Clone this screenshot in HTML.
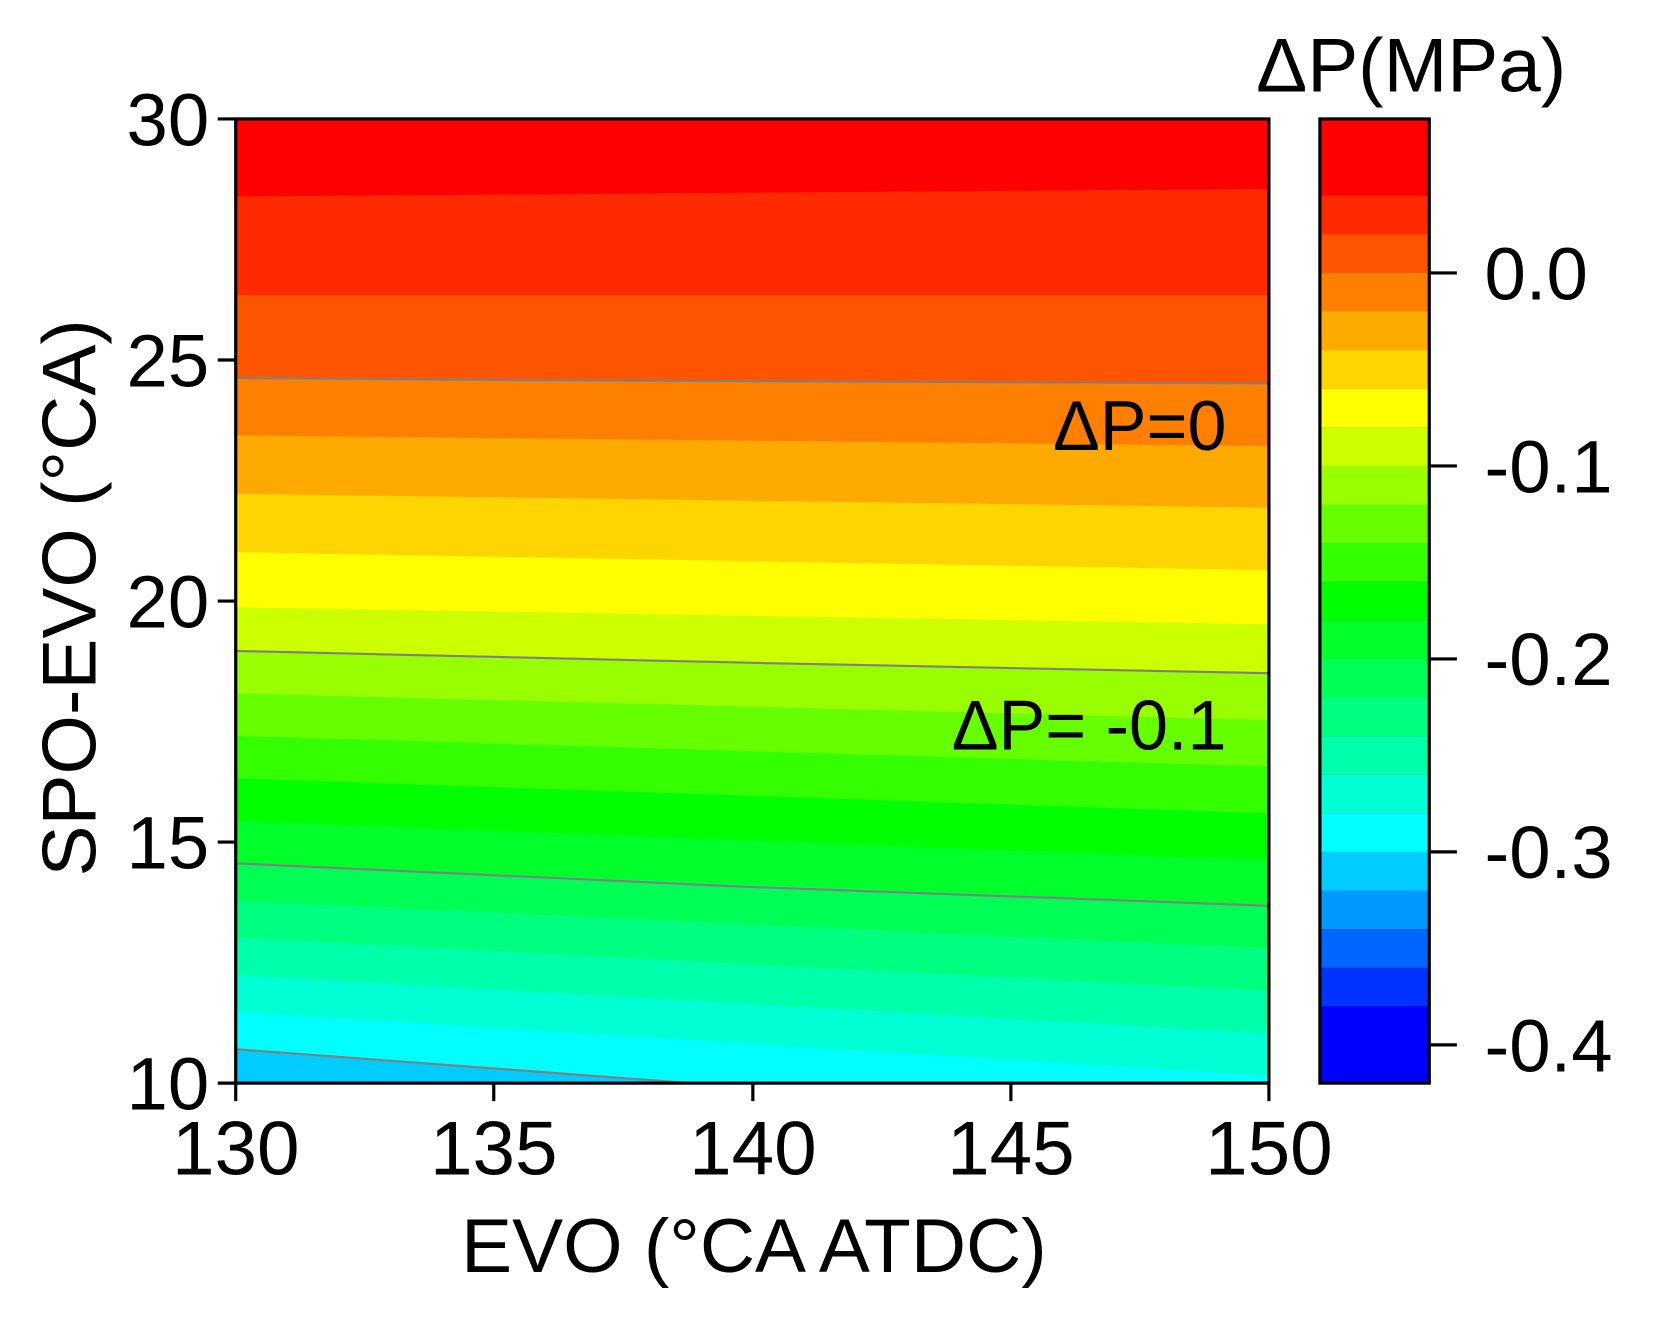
<!DOCTYPE html>
<html><head><meta charset="utf-8"><style>html,body{margin:0;padding:0;background:#fff}svg{display:block}</style></head>
<body>
<svg width="1665" height="1321" viewBox="0 0 1568 1244" xmlns="http://www.w3.org/2000/svg" font-family="Liberation Sans, Arial, sans-serif">
<rect x="0" y="0" width="1568" height="1244" fill="#fff"/>
<g>
<rect x="222" y="112" width="973" height="908" fill="hsl(0,100%,50%)"/>
<polygon points="222,185 1195,178 1195,1020 222,1020" fill="hsl(10,100%,50%)"/>
<polygon points="222,278 1195,278 1195,1020 222,1020" fill="hsl(20,100%,50%)"/>
<polygon points="222,356 1195,361 1195,1020 222,1020" fill="hsl(30,100%,50%)"/>
<polygon points="222,410 1195,420 1195,1020 222,1020" fill="hsl(40,100%,50%)"/>
<polygon points="222,465 1195,478 1195,1020 222,1020" fill="hsl(50,100%,50%)"/>
<polygon points="222,520 1195,537 1195,1020 222,1020" fill="hsl(60,100%,50%)"/>
<polygon points="222,572 1195,588 1195,1020 222,1020" fill="hsl(72,100%,50%)"/>
<polygon points="222,613 1195,634 1195,1020 222,1020" fill="hsl(84,100%,50%)"/>
<polygon points="222,653 1195,678 1195,1020 222,1020" fill="hsl(96,100%,50%)"/>
<polygon points="222,693 1195,722 1195,1020 222,1020" fill="hsl(108,100%,50%)"/>
<polygon points="222,733 1195,766 1195,1020 222,1020" fill="hsl(120,100%,50%)"/>
<polygon points="222,773 1195,810 1195,1020 222,1020" fill="hsl(130,100%,50%)"/>
<polygon points="222,813 1195,853 1195,1020 222,1020" fill="hsl(140,100%,50%)"/>
<polygon points="222,848 1195,893 1195,1020 222,1020" fill="hsl(150,100%,50%)"/>
<polygon points="222,883 1195,933 1195,1020 222,1020" fill="hsl(160,100%,50%)"/>
<polygon points="222,918 1195,973 1195,1020 222,1020" fill="hsl(170,100%,50%)"/>
<polygon points="222,953 1195,1013 1195,1020 222,1020" fill="hsl(180,100%,50%)"/>
<polygon points="222,988 650,1020 222,1020" fill="hsl(192,100%,50%)"/>
<g stroke="#808080" stroke-width="2" fill="none">
<polyline points="222,356 500,358 1195,361"/>
<polyline points="222,613 700,624 1195,634"/>
<polyline points="222,813 700,835 1195,853"/>
<polyline points="222,988 650,1020"/>
</g>
<rect x="222" y="112" width="973" height="908" fill="none" stroke="#000" stroke-width="3"/>
</g>
<g stroke="#000" stroke-width="3">
<line x1="205" y1="112" x2="222" y2="112"/><line x1="205" y1="339" x2="222" y2="339"/><line x1="205" y1="566" x2="222" y2="566"/><line x1="205" y1="793" x2="222" y2="793"/><line x1="205" y1="1020" x2="222" y2="1020"/>
<line x1="222" y1="1020" x2="222" y2="1037"/><line x1="465" y1="1020" x2="465" y2="1037"/><line x1="709" y1="1020" x2="709" y2="1037"/><line x1="952" y1="1020" x2="952" y2="1037"/><line x1="1195" y1="1020" x2="1195" y2="1037"/>
</g>
<g font-size="70" fill="#000" text-anchor="end">
<text x="197" y="137">30</text><text x="197" y="364">25</text><text x="197" y="591">20</text><text x="197" y="818">15</text><text x="197" y="1045">10</text>
</g>
<g font-size="72" fill="#000" text-anchor="middle">
<text x="222" y="1106">130</text><text x="465" y="1106">135</text><text x="709" y="1106">140</text><text x="952" y="1106">145</text><text x="1195" y="1106">150</text>
<text x="710" y="1198">EVO (°CA ATDC)</text>
<text transform="translate(90,563) rotate(-90)">SPO-EVO (°CA)</text>
<text x="1329" y="86">ΔP(MPa)</text>
</g>
<g font-size="66" fill="#000" text-anchor="end">
<text x="1155" y="424">ΔP=0</text>
<text x="1155" y="706">ΔP= -0.1</text>
</g>
<g>
<rect x="1243" y="112" width="103" height="908" fill="hsl(0,100%,50%)"/>
<rect x="1243" y="184.3" width="103" height="36.4" fill="hsl(10,100%,50%)"/>
<rect x="1243" y="220.65" width="103" height="36.4" fill="hsl(20,100%,50%)"/>
<rect x="1243" y="257" width="103" height="36.4" fill="hsl(30,100%,50%)"/>
<rect x="1243" y="293.35" width="103" height="36.4" fill="hsl(40,100%,50%)"/>
<rect x="1243" y="329.7" width="103" height="36.4" fill="hsl(50,100%,50%)"/>
<rect x="1243" y="366.05" width="103" height="36.4" fill="hsl(60,100%,50%)"/>
<rect x="1243" y="402.4" width="103" height="36.4" fill="hsl(72,100%,50%)"/>
<rect x="1243" y="438.75" width="103" height="36.4" fill="hsl(84,100%,50%)"/>
<rect x="1243" y="475.1" width="103" height="36.4" fill="hsl(96,100%,50%)"/>
<rect x="1243" y="511.45" width="103" height="36.4" fill="hsl(108,100%,50%)"/>
<rect x="1243" y="547.8" width="103" height="36.4" fill="hsl(120,100%,50%)"/>
<rect x="1243" y="584.15" width="103" height="36.4" fill="hsl(130,100%,50%)"/>
<rect x="1243" y="620.5" width="103" height="36.4" fill="hsl(140,100%,50%)"/>
<rect x="1243" y="656.85" width="103" height="36.4" fill="hsl(150,100%,50%)"/>
<rect x="1243" y="693.2" width="103" height="36.4" fill="hsl(160,100%,50%)"/>
<rect x="1243" y="729.55" width="103" height="36.4" fill="hsl(170,100%,50%)"/>
<rect x="1243" y="765.9" width="103" height="36.4" fill="hsl(180,100%,50%)"/>
<rect x="1243" y="802.25" width="103" height="36.4" fill="hsl(192,100%,50%)"/>
<rect x="1243" y="838.6" width="103" height="36.4" fill="hsl(204,100%,50%)"/>
<rect x="1243" y="874.95" width="103" height="36.4" fill="hsl(216,100%,50%)"/>
<rect x="1243" y="911.3" width="103" height="36.4" fill="hsl(228,100%,50%)"/>
<rect x="1243" y="947.65" width="103" height="72.35" fill="hsl(240,100%,50%)"/>
<rect x="1243" y="112" width="103" height="908" fill="none" stroke="#000" stroke-width="3"/>
</g>
<g stroke="#000" stroke-width="3">
<line x1="1346" y1="257" x2="1372" y2="257"/><line x1="1346" y1="438.75" x2="1372" y2="438.75"/><line x1="1346" y1="620.5" x2="1372" y2="620.5"/><line x1="1346" y1="802.25" x2="1372" y2="802.25"/><line x1="1346" y1="984" x2="1372" y2="984"/>
</g>
<g font-size="70" fill="#000">
<text x="1398" y="282">0.0</text><text x="1398" y="464">-0.1</text><text x="1398" y="645">-0.2</text><text x="1398" y="827">-0.3</text><text x="1398" y="1009">-0.4</text>
</g>
</svg>
</body></html>
